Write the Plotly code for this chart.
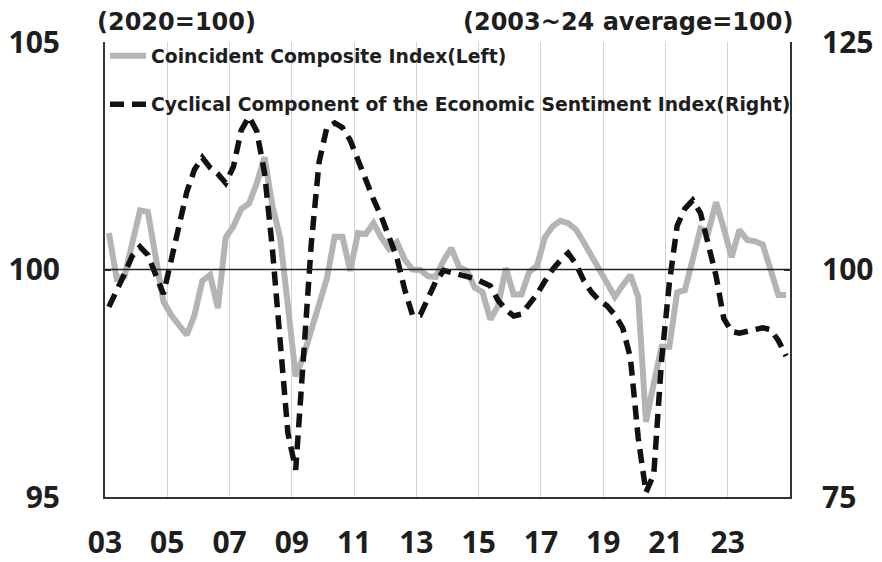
import plotly.graph_objects as go

# Quarterly data, 2003Q1 - 2024Q4
years = list(range(2003, 2025))
quarters = [y + (q + 0.5) / 4 for y in years for q in range(4)]

cci = [100.8, 99.8, 99.85, 100.6, 101.3, 101.27, 100.35, 99.3,
       99.0, 98.8, 98.56, 99.0, 99.75, 99.88, 99.15, 100.7,
       100.95, 101.33, 101.45, 101.9, 102.47, 101.4, 100.7, 99.2,
       97.65, 98.1, 98.7, 99.3, 99.8, 100.72, 100.72, 99.97,
       100.8, 100.78, 101.02, 100.7, 100.45, 100.6, 100.22, 100.0,
       99.99, 99.85, 99.84, 100.2, 100.47, 100.05, 99.97, 99.6,
       99.5, 98.9, 99.2, 100.03, 99.45, 99.45, 99.95, 100.08,
       100.7, 100.95, 101.07, 101.02, 100.88, 100.6, 100.3, 99.95,
       99.65, 99.4, 99.65, 99.88, 99.4, 96.65, 97.5, 98.3,
       98.3, 99.5, 99.55, 100.25, 100.9, 100.82, 101.48, 100.9,
       100.27, 100.87, 100.65, 100.62, 100.55, 100.0, 99.44, 99.44]

esi = [95.9, 97.6, 99.5, 101.5, 102.5, 101.6, 99.5, 97.3,
       101.0, 104.8, 108.5, 111.0, 112.3, 111.2, 110.5, 109.5,
       111.3, 115.3, 116.8, 115.2, 110.6, 102.3, 92.3, 82.0,
       78.0, 91.0, 102.8, 111.8, 115.6, 116.1, 115.6, 114.2,
       111.9, 109.6, 107.7, 105.8, 103.6, 101.3, 97.8, 95.0,
       95.0, 96.9, 98.7, 99.9, 99.7, 99.5, 99.2, 99.0,
       98.6, 98.2, 96.6, 95.6, 94.9, 95.1, 96.2, 97.3,
       98.7, 100.0, 101.0, 101.8, 100.6, 98.8, 97.5, 96.6,
       96.0, 95.0, 93.6, 90.3, 81.5, 75.5, 77.5, 90.0,
       98.5, 104.8, 106.7, 107.6, 106.2, 103.0, 99.3, 94.6,
       93.2, 93.0, 93.2, 93.4, 93.6, 93.4, 92.2, 90.5]

X_RANGE = [2003, 2025]
x_tick_vals = list(range(2003, 2025, 2))
x_tick_text = ["03", "05", "07", "09", "11", "13", "15", "17", "19", "21", "23"]
left_ticks = [95, 100, 105]
right_ticks = [75, 100, 125]
BASE = 100

name_cci = "Coincident Composite Index(Left)"
name_esi = "Cyclical Component of the Economic Sentiment Index(Right)"

TICK_FONT = "Noto Sans"
TEXT_FONT = "DejaVu Sans"
DARK = "#1e1e1e"

fig = go.Figure()
fig.add_trace(go.Scatter(
    x=quarters, y=cci, name=name_cci, mode="lines",
    line=dict(color="#b4b4b4", width=6), legendgroup="a", yaxis="y"))
fig.add_trace(go.Scatter(
    x=quarters, y=esi, name=name_esi, mode="lines",
    line=dict(color="#111111", width=5.5, dash="14px,8px"), legendgroup="b", yaxis="y2"))

# Base line (100) on the left axis
fig.add_shape(type="line", xref="x", yref="y", x0=X_RANGE[0], x1=X_RANGE[1],
              y0=BASE, y1=BASE, line=dict(color="#222222", width=1.5), layer="above")

# The page body adds an 8px offset, so the figure is sized to fit the 882x562 view.
fig.update_layout(
    width=874, height=554,
    margin=dict(l=97, r=92, t=34, b=65),
    paper_bgcolor="white", plot_bgcolor="white",
    font=dict(family=TEXT_FONT, color=DARK),
    showlegend=True,
    legend=dict(x=0.0, y=1.011, xanchor="left", yanchor="top",
                bgcolor="rgba(0,0,0,0)", tracegroupgap=21,
                font=dict(size=18.8, family=TEXT_FONT, weight=700, color=DARK),
                itemwidth=36),
    xaxis=dict(range=X_RANGE, tickvals=x_tick_vals, ticktext=x_tick_text,
               showgrid=True, gridcolor="#d4d4d4", gridwidth=1,
               showline=True, linecolor="#333333", linewidth=2,
               ticks="", ticklabelstandoff=18, automargin=False,
               tickfont=dict(size=30, family=TICK_FONT, weight=700, color=DARK)),
    yaxis=dict(range=[95, 105], tickvals=left_ticks,
               showgrid=True, gridcolor="#d4d4d4", gridwidth=1,
               showline=True, linecolor="#333333", linewidth=2,
               ticks="inside", ticklen=6, tickwidth=2, tickcolor="#333333",
               ticklabelstandoff=37, zeroline=False, automargin=False,
               tickfont=dict(size=30, family=TICK_FONT, weight=700, color=DARK)),
    yaxis2=dict(range=[75, 125], tickvals=right_ticks, overlaying="y", side="right",
                showgrid=False, showline=True, linecolor="#333333", linewidth=2,
                ticks="inside", ticklen=6, tickwidth=2, tickcolor="#333333",
                ticklabelstandoff=24, zeroline=False, automargin=False,
                tickfont=dict(size=30, family=TICK_FONT, weight=700, color=DARK)),
    annotations=[
        dict(text="(2020=100)", xref="paper", yref="paper", x=0.105, y=1.0,
             xanchor="center", yanchor="bottom", yshift=4, showarrow=False,
             font=dict(size=24, family=TEXT_FONT, weight=700, color=DARK)),
        dict(text="(2003~24 average=100)", xref="paper", yref="paper", x=1.007, y=1.0,
             xanchor="right", yanchor="bottom", yshift=4, showarrow=False,
             font=dict(size=24, family=TEXT_FONT, weight=700, color=DARK)),
    ],
)

fig.write_html("out.html")
